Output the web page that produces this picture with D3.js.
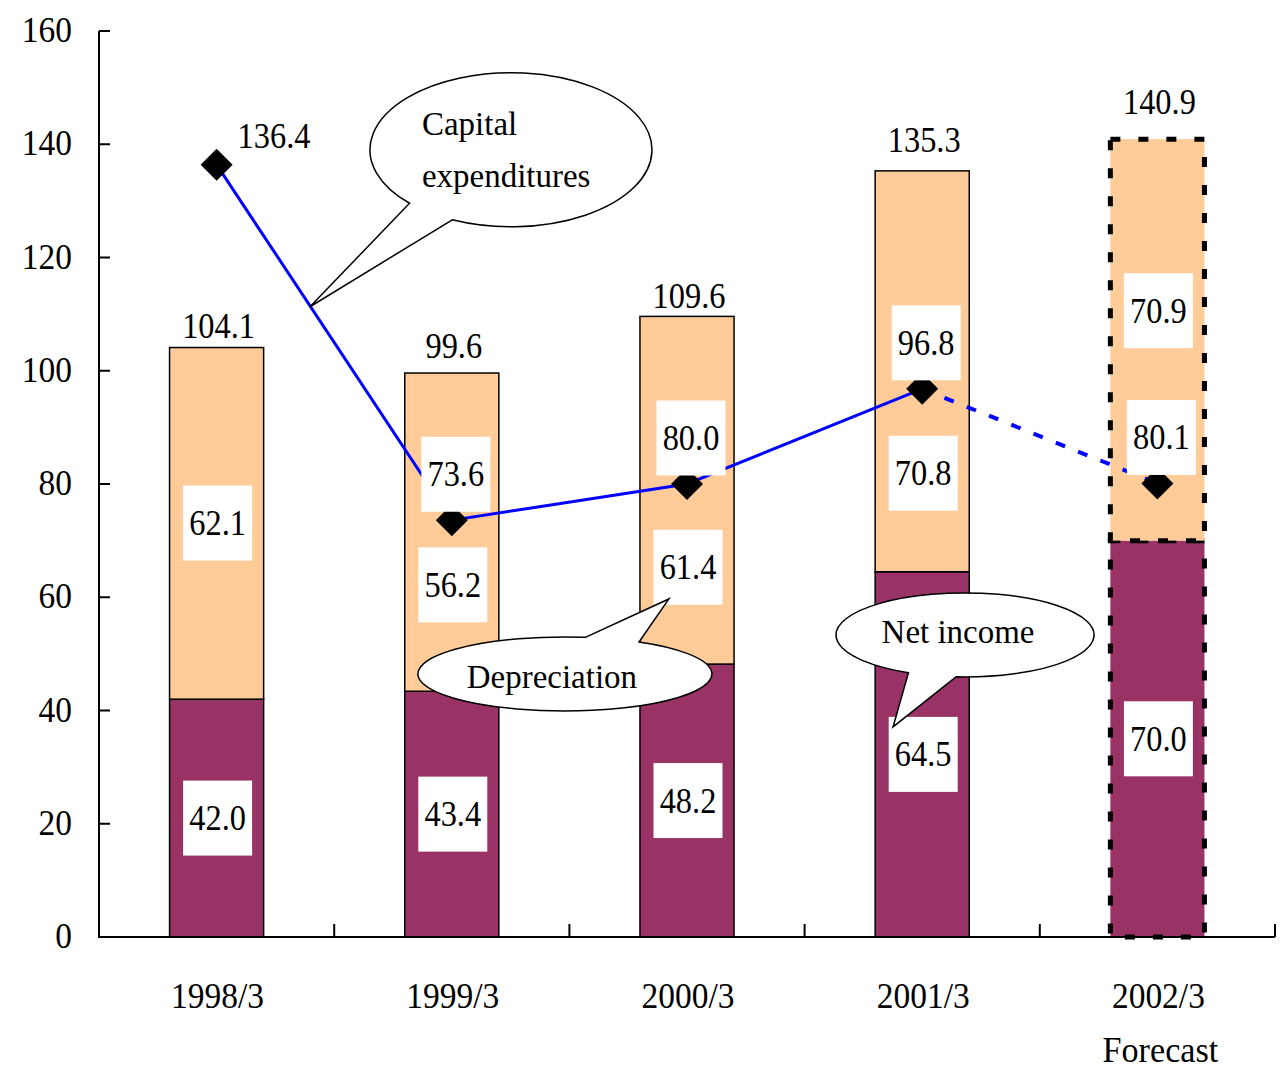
<!DOCTYPE html>
<html>
<head>
<meta charset="utf-8">
<script src="https://cdn.jsdelivr.net/npm/d3@7"></script>
<style>
  body { margin: 0; background: #fff; }
</style>
</head>
<body>
<svg id="chart" width="1281" height="1074"></svg>
<script>
// data
var categories = ["1998/3", "1999/3", "2000/3", "2001/3", "2002/3"];
var netIncome = [42.0, 43.4, 48.2, 64.5, 70.0];
var depreciation = [62.1, 56.2, 61.4, 70.8, 70.9];
var capex = [136.4, 73.6, 80.0, 96.8, 80.1];
// where the depreciation value boxes sit (value units, moved off the line)
var deprLabelAt = [73.1, 62.2, 65.3, 81.9, 110.6];
// gap between bar top and its total label, px
var totalGap = [10, 15, 8, 19, 25];
var yTicks = [0, 20, 40, 60, 80, 100, 120, 140, 160];
var forecastIndex = 4;

var callouts = [
  {lines: ["Capital", "expenditures"], at: 0.397, v: 111.3, dx: 201, dy: -157, rx: 141, ry: 77, a1: 136, a2: 114.6, tx: -89, ty: [-15, 37], anchor: "start"},
  {lines: ["Depreciation"], at: 1.923, v: 59.7, dx: -104, dy: 75, rx: 147, ry: 37, a1: -59.7, a2: -82, tx: -13, ty: [14], anchor: "middle"},
  {lines: ["Net income"], at: 2.876, v: 37.1, dx: 72, dy: -92, rx: 129, ry: 42, a1: 116, a2: 94, tx: -7, ty: [8], anchor: "middle"}
];

var FONT = "'Liberation Serif', 'DejaVu Serif', serif";

var svg = d3.select("#chart");
var x = d3.scaleBand().domain(categories).range([99, 1275]);
var y = d3.scaleLinear().domain([0, 160]).range([937, 31]);
var bw = x.bandwidth() * 0.4;
var cx = function (i) { return x(categories[0]) + x.bandwidth() / 2 + i * x.step(); };

var peach = "#FFCC99", maroon = "#993366";

//Beschriftung, etwas schmaler gesetzt
function label(g, px, py, txt, size, anchor, sx) {
    return g.append("text")
        .attr("transform", "translate(" + px + "," + py + ") scale(" + (sx || 0.92) + ",1)")
        .attr("text-anchor", anchor || "middle")
        .attr("font-family", FONT)
        .attr("font-size", size)
        .attr("fill", "#000")
        .text(txt);
}

// bars
var bars = svg.append("g");
categories.forEach(function (c, i) {
    var x0 = x(c) + x.bandwidth() / 2 - bw / 2;
    var fc = i === forecastIndex;
    var segs = [[0, netIncome[i], maroon], [netIncome[i], netIncome[i] + depreciation[i], peach]];
    segs.forEach(function (s) {
        bars.append("rect")
            .attr("x", x0).attr("width", bw)
            .attr("y", y(s[1])).attr("height", y(s[0]) - y(s[1]))
            .attr("fill", s[2])
            .attr("stroke", "#000")
            .attr("stroke-width", fc ? 5 : 1.5)
            .attr("stroke-dasharray", fc ? "10,18" : null);
    });
});

// axes
var axes = svg.append("g").attr("stroke", "#000").attr("stroke-width", 2).attr("fill", "none");
axes.append("path").attr("d", "M" + x.range()[0] + "," + y(160) + "V" + y(0) + "H" + x.range()[1]);
yTicks.forEach(function (t) {
    axes.append("line").attr("x1", 99).attr("x2", 110).attr("y1", y(t)).attr("y2", y(t));
    label(svg, 72, y(t) + 11, t, 36, "end", 0.93);
});
categories.forEach(function (c, i) {
    var xe = x(c) + x.bandwidth();
    axes.append("line").attr("x1", xe).attr("x2", xe).attr("y1", y(0)).attr("y2", y(0) - 13);
    label(svg, x(c) + x.bandwidth() / 2 + 1, 1008, c, 36, "middle", 0.93);
});
label(svg, cx(forecastIndex) + 3, 1062, "Forecast", 36, "middle", 0.95);

// capex line
var pts = capex.map(function (v, i) { return [cx(i), y(v)]; });
var line = d3.line();
svg.append("path").attr("d", line(pts.slice(0, forecastIndex)))
    .attr("fill", "none").attr("stroke", "#0000FF").attr("stroke-width", 3);
svg.append("path").attr("d", line(pts.slice(forecastIndex - 1)))
    .attr("fill", "none").attr("stroke", "#0000FF").attr("stroke-width", 4)
    .attr("stroke-dasharray", "10,14");
svg.append("g").selectAll("path").data(pts).enter().append("path")
    .attr("d", d3.symbol(d3.symbolSquare, 512))
    .attr("transform", function (p) { return "translate(" + p[0] + "," + p[1] + ") rotate(45)"; })
    .attr("fill", "#000");

// value boxes
function box(px, py, txt) {
    svg.append("rect").attr("x", px - 34.5).attr("y", py - 37.5)
        .attr("width", 69).attr("height", 75).attr("fill", "#fff");
    label(svg, px, py + 12, txt, 36, "middle", 0.9);
}
categories.forEach(function (c, i) {
    var mx = cx(i);
    var tot = netIncome[i] + depreciation[i];
    box(mx + 1, y(netIncome[i] / 2), netIncome[i].toFixed(1));
    box(mx + 1, y(deprLabelAt[i]), depreciation[i].toFixed(1));
    if (i > 0) box(mx + 4, y(capex[i]) - 46, capex[i].toFixed(1));
    label(svg, mx + 2, y(tot) - totalGap[i], tot.toFixed(1), 36, "middle", 0.9);
});
label(svg, cx(0) + 21, y(capex[0]) - 17, capex[0].toFixed(1), 36, "start", 0.9);

// callouts
callouts.forEach(function (k) {
    var tip = [cx(k.at), y(k.v)];
    var c0 = [tip[0] + k.dx, tip[1] + k.dy];
    var P = function (a) {
        var r = a * Math.PI / 180;
        return [c0[0] + k.rx * Math.cos(r), c0[1] + k.ry * Math.sin(r)];
    };
    var b1 = P(k.a1), b2 = P(k.a2);
    var d = "M" + b2 + "L" + tip + "L" + b1 + "A" + k.rx + "," + k.ry + " 0 1 1 " + b2 + "Z";
    svg.append("path").attr("d", d).attr("fill", "#fff").attr("stroke", "#000").attr("stroke-width", 1.5);
    k.lines.forEach(function (t, j) {
        label(svg, c0[0] + k.tx, c0[1] + k.ty[j], t, 34, k.anchor, 0.97);
    });
});
</script>
</body>
</html>
